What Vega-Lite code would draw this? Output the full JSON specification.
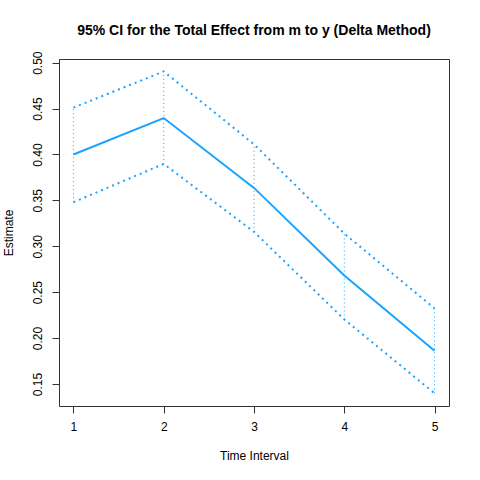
{
  "$schema": "https://vega.github.io/schema/vega-lite/v6.json",
  "width": 390,
  "height": 347,
  "autosize": "none",
  "padding": {"left": 59, "top": 59, "right": 31, "bottom": 74},
  "background": "white",
  "config": {
    "font": "Liberation Sans",
    "view": {"stroke": "#333333", "strokeWidth": 1},
    "axis": {"grid": false, "domain": false, "tickColor": "#333333", "tickSize": 7, "labelColor": "#000000", "titleColor": "#000000", "labelFont": "Liberation Sans", "titleFont": "Liberation Sans", "labelFontSize": 12, "titleFontSize": 12, "titleFontWeight": "normal"}
  },
  "title": {"text": "95% CI for the Total Effect from m to y (Delta Method)", "fontSize": 14, "fontWeight": "bold", "font": "Liberation Sans", "anchor": "middle", "color": "#000000", "baseline": "alphabetic", "frame": "group", "offset": 23, "dy": 21},
  "data": {"values": [
    {"t": 1, "est": 0.400, "lo": 0.348, "hi": 0.451},
    {"t": 2, "est": 0.4397, "lo": 0.3897, "hi": 0.4905},
    {"t": 3, "est": 0.3636, "lo": 0.3157, "hi": 0.4111},
    {"t": 4, "est": 0.2682, "lo": 0.2203, "hi": 0.3139},
    {"t": 5, "est": 0.1862, "lo": 0.1398, "hi": 0.2323}
  ]},
  "encoding": {
    "x": {"field": "t", "type": "quantitative", "scale": {"domain": [0.84, 5.16], "nice": false, "zero": false},
      "axis": {"title": "Time Interval", "values": [1, 2, 3, 4, 5], "format": "d", "labelPadding": 8, "titlePadding": 18}}
  },
  "layer": [
    {"mark": {"type": "rule", "color": "#1AA3FF", "strokeWidth": 1, "strokeDash": [1, 3]},
     "encoding": {"y": {"field": "lo", "type": "quantitative", "scale": {"domain": [0.126, 0.504], "nice": false, "zero": false},
        "axis": {"title": "Estimate", "values": [0.15, 0.2, 0.25, 0.3, 0.35, 0.4, 0.45, 0.5], "format": ".2f", "labelAngle": -90, "labelAlign": "center", "labelBaseline": "bottom", "labelPadding": 8, "titlePadding": 16}},
      "y2": {"field": "hi"}}},
    {"mark": {"type": "line", "color": "#1AA3FF", "strokeWidth": 2}, "encoding": {"y": {"field": "est", "type": "quantitative"}}},
    {"mark": {"type": "line", "color": "#1AA3FF", "strokeWidth": 2, "strokeDash": [2, 4]}, "encoding": {"y": {"field": "lo", "type": "quantitative"}}},
    {"mark": {"type": "line", "color": "#1AA3FF", "strokeWidth": 2, "strokeDash": [2, 4]}, "encoding": {"y": {"field": "hi", "type": "quantitative"}}}
  ]
}
